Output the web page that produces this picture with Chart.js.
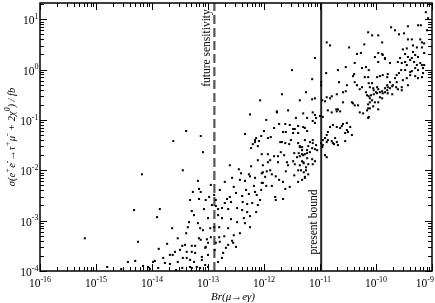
<!DOCTYPE html>
<html><head><meta charset="utf-8">
<script src="https://cdn.jsdelivr.net/npm/chart.js@4.4.0/dist/chart.umd.min.js"></script>
<style>html,body{margin:0;padding:0;background:#fff}#wrap{width:435px;height:303px}</style>
</head><body><div id="wrap"><canvas id="c" width="435" height="303"></canvas></div>
<script>
// Scatter values, as [log10 Br(mu->e gamma), log10 sigma/fb]
const scatterLog = [
[-15.20,-3.35],[-14.80,-3.92],[-14.55,-3.96],[-14.43,-3.82],[-14.30,-3.80],[-14.32,-2.79],[-14.25,-3.42],[-14.18,-2.08],[-14.16,-3.90],[-14.07,-3.92],
[-14.04,-3.96],[-13.98,-3.82],[-13.91,-2.93],[-13.86,-2.77],[-13.88,-3.56],[-13.73,-3.46],[-13.68,-3.68],[-13.64,-3.15],[-13.62,-1.42],[-13.59,-3.62],
[-13.89,-3.94],[-13.77,-3.84],[-13.68,-3.86],[-13.46,-3.94],[-13.39,-1.22],[-13.45,-2.00],[-13.13,-1.32],[-13.09,-1.64],
[-13.18,-2.21],[-13.16,-2.37],[-13.13,-2.43],[-13.27,-2.43],[-12.98,-2.53],[-13.16,-2.57],[-13.29,-2.81],[-13.07,-2.77],[-13.34,-3.03],[-13.18,-3.05],
[-13.36,-3.13],[-13.14,-3.15],[-13.09,-3.19],[-13.46,-3.50],[-13.41,-3.48],[-13.29,-3.50],[-13.23,-3.50],[-13.16,-3.35],[-13.02,-3.37],[-12.95,-3.33],
[-13.45,-3.74],[-13.38,-3.74],[-13.32,-3.78],[-13.11,-3.72],[-13.11,-3.78],[-13.00,-3.68],[-13.32,-3.92],[-13.29,-3.94],[-13.20,-3.92],[-13.14,-3.94],
[-13.05,-3.88],[-13.00,-3.92],[-12.96,-3.15],[-12.89,-3.13],[-12.93,-2.69],[-13.00,-2.95],[-12.89,-2.49],[-12.88,-3.58],[-13.00,-3.44],[-13.23,-3.64],
[-13.54,-3.82],[-13.39,-3.25],[-13.54,-3.35],[-13.25,-2.89],[-13.04,-2.59],[-12.95,-2.29],[-13.32,-2.59],[-13.80,-3.74],[-13.57,-3.98],[-13.25,-3.82],
[-13.05,-3.54],[-13.50,-3.58],
[-12.61,-1.90],[-12.45,-1.98],[-12.41,-2.06],[-12.27,-2.08],[-12.25,-2.12],[-12.04,-2.06],[-12.02,-2.04],[-11.98,-2.13],[-12.70,-2.23],[-12.34,-2.21],
[-12.18,-2.31],[-12.02,-2.25],[-12.50,-2.45],[-12.39,-2.51],[-12.61,-2.53],[-12.66,-2.57],[-12.27,-2.47],[-12.16,-2.43],[-12.13,-2.49],[-12.07,-2.59],
[-12.70,-2.65],[-12.59,-2.63],[-12.38,-2.63],[-12.30,-2.67],[-12.21,-2.65],[-12.75,-2.75],[-12.64,-2.77],[-12.48,-2.75],[-12.39,-2.79],[-12.30,-2.83],
[-12.25,-2.91],[-12.36,-2.95],[-12.75,-2.95],[-12.59,-2.97],[-12.48,-3.03],[-12.34,-3.05],[-12.64,-3.15],[-12.80,-3.13],[-12.80,-3.33],[-12.86,-3.44],
[-12.68,-3.54],[-12.73,-3.64],[-12.50,-3.52],[-12.55,-3.44],[-12.79,-3.42],[-12.64,-3.48],[-12.57,-3.40],[-12.82,-3.82],[-12.75,-3.74],[-12.25,-3.13],
[-12.43,-3.25],[-12.54,-3.29],[-12.11,-2.69],[-12.82,-2.89],[-12.54,-2.33],[-12.79,-2.39],[-12.16,-2.15],[-12.23,-1.92],[-12.32,-2.39],[-12.43,-2.19],
[-12.57,-2.15],[-12.14,-2.83],[-12.71,-3.31],[-12.05,-2.39],[-12.86,-2.59],
[-12.23,-1.56],[-12.20,-1.48],[-12.16,-1.44],[-12.09,-1.42],[-11.68,-1.44],[-11.55,-1.48],[-11.62,-1.46],[-12.04,-1.68],[-11.93,-1.68],[-11.82,-1.72],
[-11.89,-1.80],[-11.75,-1.72],[-11.70,-1.64],[-11.64,-1.70],[-11.93,-1.84],[-11.75,-1.84],[-11.59,-1.84],[-11.48,-1.82],[-11.41,-1.74],[-11.46,-1.66],
[-11.38,-1.66],[-11.32,-1.68],[-11.57,-1.90],[-11.45,-1.88],[-11.36,-1.90],[-11.30,-1.84],[-11.95,-2.02],[-11.79,-2.12],[-11.73,-2.19],[-11.66,-2.23],
[-11.86,-2.31],[-11.96,-2.31],[-11.62,-2.37],[-11.54,-2.33],[-11.46,-2.10],[-11.39,-2.23],[-11.32,-2.19],[-11.39,-2.00],[-11.89,-2.00],[-11.86,-2.08],
[-11.80,-2.53],[-11.79,-2.59],[-11.66,-2.57],[-12.04,-2.25],[-12.02,-1.90],[-11.61,-2.02],[-12.11,-1.80],[-12.25,-0.89],[-11.77,-0.85],[-11.30,-0.87],
[-12.00,-1.22],[-12.34,-1.28],[-12.05,-1.32],[-12.16,-1.40],[-12.11,-1.52],[-11.93,-1.36],[-11.88,-1.34],[-11.73,-1.08],[-11.62,-1.08],[-11.54,-1.10],
[-11.48,-1.18],[-11.45,-1.18],[-11.39,-1.12],[-11.66,-1.24],[-11.61,-1.24],[-11.48,-1.26],[-11.39,-1.26],[-11.71,-1.44],[-11.52,-1.40],[-11.39,-1.46],
[-12.14,-1.36],[-12.07,-0.61],[-11.96,-1.00],[-11.77,-0.83],[-11.82,-1.16],[-11.50,-0.01],[-11.68,-0.49],[-11.43,-0.96],[-11.57,-0.81],[-11.36,-1.52],
[-11.27,-1.40],[-11.32,-1.54],[-11.23,-1.60],[-11.30,-1.70],[-11.23,-1.76],[-11.32,-1.82],[-11.29,-1.86],[-11.25,-1.94],[-11.34,-2.00],[-11.21,-2.08],
[-11.27,-2.15],[-11.14,-1.78],[-11.09,-1.82],[-11.13,-1.46],
[-11.25,-0.45],[-11.36,-0.61],[-11.09,-0.57],[-11.14,-0.59],[-10.96,-0.61],[-10.91,-0.63],[-10.88,-0.55],[-10.82,-0.57],[-10.79,-0.53],[-10.70,-0.49],
[-10.59,-0.45],[-10.54,-0.43],[-10.25,-0.35],[-10.59,-0.65],[-10.43,-0.65],[-10.41,-0.67],[-10.38,-0.71],[-10.32,-0.71],[-10.29,-0.85],[-10.23,-0.87],
[-10.16,-0.81],[-10.14,-0.77],[-10.16,-0.51],[-10.11,-0.57],[-10.14,-0.96],[-10.71,-0.79],[-10.70,-0.83],[-10.68,-0.79],[-10.64,-0.83],[-10.86,-0.81],
[-10.79,-0.85],[-11.00,-0.92],[-10.95,-0.94],[-11.13,-0.85],[-11.09,-0.90],[-11.07,-0.96],[-11.13,-1.02],[-11.09,-1.06],[-11.23,-0.96],[-11.30,-1.14],
[-11.27,-1.16],[-11.23,-1.22],[-10.82,-1.14],[-10.77,-1.10],[-10.70,-1.14],[-10.64,-1.16],[-10.61,-1.12],[-10.59,-1.08],[-10.52,-1.06],[-10.46,-1.14],
[-10.52,-1.20],[-10.50,-1.24],[-10.55,-1.26],[-10.43,-1.30],[-10.86,-1.24],[-10.88,-1.30],[-10.91,-1.36],[-10.95,-1.40],[-10.88,-1.44],[-10.79,-1.42],
[-10.77,-1.46],[-10.70,-1.44],[-10.68,-1.50],[-10.98,-1.46],[-10.96,-1.54],[-10.95,-1.50],[-11.13,-1.40],[-11.18,-1.44],[-11.21,-1.52],[-11.14,-1.56],
[-11.09,-1.58],[-11.05,-1.60],[-11.32,-1.60],[-11.23,-1.66],[-11.36,-1.72],[-10.88,-1.74],[-10.73,-1.36],[-10.55,-1.42],[-10.75,-1.48],[-10.91,-1.70],
[-10.14,0.74],[-10.88,0.54],[-10.82,0.48],[-10.48,0.44],[-10.21,0.50],[-11.09,0.23],[-10.34,0.31],[-10.27,0.33],[-10.38,0.13],[-10.54,0.05],
[-10.68,-0.01],[-10.25,0.03],[-10.18,0.05],[-10.13,-0.01],[-10.89,-0.07],[-10.41,-0.13],[-10.39,-0.09],[-10.20,-0.15],[-10.14,-0.15],[-11.14,-0.19],
[-10.98,-0.25],[-10.98,-0.31],[-10.66,-0.25],[-10.52,-0.31],[-10.38,-0.25],[-10.34,-0.31],[-10.29,-0.39],[-10.13,-0.27],
[-9.25,0.88],[-9.20,0.88],[-9.43,0.86],[-9.73,0.84],[-10.07,0.68],[-9.96,0.68],[-9.59,0.70],[-9.50,0.72],[-9.43,0.60],[-9.36,0.60],
[-9.21,0.60],[-9.18,0.54],[-9.89,0.54],[-9.27,0.44],[-9.45,0.42],[-9.52,0.40],[-9.18,0.44],[-9.96,0.33],[-9.89,0.31],[-10.02,0.25],
[-9.34,0.35],[-9.30,0.29],[-9.25,0.25],[-9.36,0.23],[-9.48,0.31],[-9.43,0.25],[-9.57,0.23],[-9.84,0.23],[-9.75,0.13],[-9.96,0.15],
[-9.61,0.15],[-9.54,0.13],[-9.48,0.15],[-9.45,0.09],[-9.39,0.19],[-9.32,0.15],[-9.27,0.09],[-9.21,0.13],[-9.18,0.09],[-9.16,0.03],
[-9.25,-0.01],[-9.30,0.03],[-9.36,-0.03],[-9.48,-0.01],[-9.55,-0.01],[-9.59,-0.07],[-9.63,-0.11],[-9.88,-0.11],[-9.80,-0.15],[-9.79,-0.09],
[-9.93,-0.13],[-9.98,-0.15],[-9.16,-0.07],[-9.18,-0.15],[-9.25,-0.17],[-9.30,-0.13],[-9.39,-0.11],[-9.45,-0.17],[-9.52,-0.21],[-9.66,-0.17],
[-9.63,-0.25],[-9.70,-0.31],[-9.64,-0.35],[-9.75,-0.25],[-9.80,-0.31],[-9.84,-0.37],[-10.07,-0.27],[-10.11,-0.35],[-10.05,-0.37],[-9.43,-0.31],
[-9.54,-0.35],[-9.61,-0.39],[-9.11,1.14],[-9.07,1.02],[-9.09,0.78],[-9.14,0.52],[-9.14,0.33],[-9.14,0.09],[-9.88,0.29],[-9.84,0.21],
[-9.34,0.48],[-9.39,-0.05],[-9.66,0.78],
[-10.18,-0.45],[-10.13,-0.53],[-10.09,-0.51],[-10.04,-0.41],[-10.00,-0.45],[-9.98,-0.35],[-9.96,-0.39],[-10.04,-0.49],[-9.98,-0.47],[-9.93,-0.45],
[-9.89,-0.43],[-9.88,-0.47],[-9.84,-0.45],[-9.80,-0.41],[-9.79,-0.35],[-9.75,-0.37],[-9.71,-0.33],[-9.79,-0.47],[-9.71,-0.49],[-9.93,-0.55],
[-9.89,-0.57],[-9.96,-0.65],[-10.02,-0.65],[-10.07,-0.61],[-10.11,-0.65],[-10.05,-0.73],[-10.14,-0.69],[-9.96,-0.79],[-10.13,-0.94],[-9.54,-0.41],
[-10.11,-0.77],
[-11.36,-1.54],[-11.27,-1.68],[-11.21,-1.88],[-11.25,-2.00],[-11.29,-2.04],[-11.27,-2.13],[-11.13,-1.88],[-11.07,-1.50],[-11.18,-1.64],[-10.86,-1.40],
[-13.38,-3.62],[-13.29,-3.62],[-13.04,-3.52],[-13.13,-3.38],[-13.63,-3.68],[-13.95,-3.80],[-12.86,-2.71],[-12.82,-2.77]
];
const xTickExponents = [-16, -15, -14, -13, -12, -11, -10, -9];
const yTickExponents = [-4, -3, -2, -1, 0, 1];
const xRange = [1e-16, 1e-9];
const yRange = [1e-4, 21];
const futureSensitivity = 1.3e-13;
const presentBound = 1.05e-11;
const xTitle = 'Br(μ→eγ)';
const yTitleParts = [['σ(e',0],['+',1],['e',0],['-',1],['→τ',0],['+',1],['μ',0],['-',1],[' + 2χ',0],['0',1],[') / fb',0]];
const futureLabel = 'future sensitivity';
const presentLabel = 'present bound';

const FAMILY = '"Liberation Serif","Times New Roman",serif';

function drawRich(ctx, parts, x, y, align, size, style, supSize) {
  supSize = supSize || Math.round(size * 0.7);
  const fontFor = k => (style || '') + ' ' + (k ? supSize : size) + 'px ' + FAMILY;
  let w = 0;
  parts.forEach(p => { ctx.font = fontFor(p[1]); w += ctx.measureText(p[0]).width; });
  let cx = align === 'center' ? x - w / 2 : align === 'right' ? x - w : x;
  ctx.textAlign = 'left';
  ctx.textBaseline = 'alphabetic';
  parts.forEach(p => {
    ctx.font = fontFor(p[1]);
    ctx.fillText(p[0], cx, p[1] ? y - size * 0.45 : y);
    cx += ctx.measureText(p[0]).width;
  });
  return w;
}

const decor = {
  id: 'decor',
  afterDraw(chart) {
    const ctx = chart.ctx, a = chart.chartArea;
    const xs = chart.scales.x, ys = chart.scales.y;
    ctx.save();
    ctx.strokeStyle = '#000';
    ctx.fillStyle = '#000';
    // ticks (inside, all four sides)
    ctx.lineWidth = 1;
    ctx.beginPath();
    for (let d = -16; d <= -9; d++) {
      for (let m = 1; m <= 9; m++) {
        const v = m * Math.pow(10, d);
        if (v > xRange[1] * 1.0001) break;
        const px = Math.round(xs.getPixelForValue(v)) + 0.5;
        const len = m === 1 ? 7 : 4;
        ctx.moveTo(px, a.bottom); ctx.lineTo(px, a.bottom - len);
        ctx.moveTo(px, a.top); ctx.lineTo(px, a.top + len);
      }
    }
    for (let d = -4; d <= 1; d++) {
      for (let m = 1; m <= 9; m++) {
        const v = m * Math.pow(10, d);
        if (v > yRange[1]) break;
        const py = Math.round(ys.getPixelForValue(v)) + 0.5;
        const len = m === 1 ? 7 : 4;
        ctx.moveTo(a.left, py); ctx.lineTo(a.left + len, py);
        ctx.moveTo(a.right, py); ctx.lineTo(a.right - len, py);
      }
    }
    ctx.stroke();
    // frame
    ctx.lineWidth = 1.5;
    ctx.strokeRect(a.left, a.top, a.right - a.left, a.bottom - a.top);
    // tick labels
    const TS = 11.5, TSS = 8;
    xTickExponents.forEach(e => {
      const px = xs.getPixelForValue(Math.pow(10, e));
      const parts = [['10', 0], [String(e), 1]];
      let w = 0;
      parts.forEach(p => { ctx.font = (p[1] ? TSS : TS) + 'px ' + FAMILY; w += ctx.measureText(p[0]).width; });
      let left = px - w / 2;
      if (left + w > 434) left = 434 - w;
      drawRich(ctx, parts, left, 287, 'left', TS, '', TSS);
    });
    yTickExponents.forEach(e => {
      const py = ys.getPixelForValue(Math.pow(10, e));
      drawRich(ctx, [['10', 0], [String(e), 1]], 38.5, py + 5, 'right', TS, '', TSS);
    });
    // axis titles
    drawRich(ctx, [[xTitle, 0]], (a.left + a.right) / 2 - 3, 300, 'center', 11, 'italic');
    ctx.save();
    ctx.translate(15, (a.top + a.bottom) / 2);
    ctx.rotate(-Math.PI / 2);
    drawRich(ctx, yTitleParts, 0, 0, 'center', 10.5, 'italic', 7.5);
    ctx.restore();
    // vertical line annotations
    const fx = xs.getPixelForValue(futureSensitivity);
    ctx.save();
    ctx.translate(fx - 4, 48);
    ctx.rotate(-Math.PI / 2);
    drawRich(ctx, [[futureLabel, 0]], 0, 0, 'center', 11.5);
    ctx.restore();
    const bx = xs.getPixelForValue(presentBound);
    ctx.save();
    ctx.translate(bx - 4.5, 222);
    ctx.rotate(-Math.PI / 2);
    drawRich(ctx, [[presentLabel, 0]], 0, 0, 'center', 11.5);
    ctx.restore();
    ctx.restore();
  }
};

new Chart(document.getElementById('c'), {
  type: 'scatter',
  data: {
    datasets: [
      {
        data: scatterLog.map(p => ({ x: Math.pow(10, p[0]), y: Math.pow(10, p[1]) })),
        pointStyle: 'rect', pointRadius: 1.45, pointHoverRadius: 1.45,
        backgroundColor: '#000', borderWidth: 0, order: 1
      },
      {
        data: [{ x: futureSensitivity, y: yRange[0] }, { x: futureSensitivity, y: yRange[1] }],
        showLine: true, borderColor: '#555', borderWidth: 2.2, borderDash: [9, 4],
        pointRadius: 0, order: 2
      },
      {
        data: [{ x: presentBound, y: yRange[0] }, { x: presentBound, y: yRange[1] }],
        showLine: true, borderColor: '#222', borderWidth: 2, pointRadius: 0, order: 2
      }
    ]
  },
  options: {
    responsive: false, animation: false, devicePixelRatio: 1,
    layout: { padding: { left: 40, right: 3, top: 3, bottom: 32 } },
    plugins: { legend: { display: false }, tooltip: { enabled: false } },
    events: [],
    scales: {
      x: { type: 'logarithmic', min: xRange[0], max: xRange[1], display: false },
      y: { type: 'logarithmic', min: yRange[0], max: yRange[1], display: false }
    }
  },
  plugins: [decor]
});
</script>
</body></html>
